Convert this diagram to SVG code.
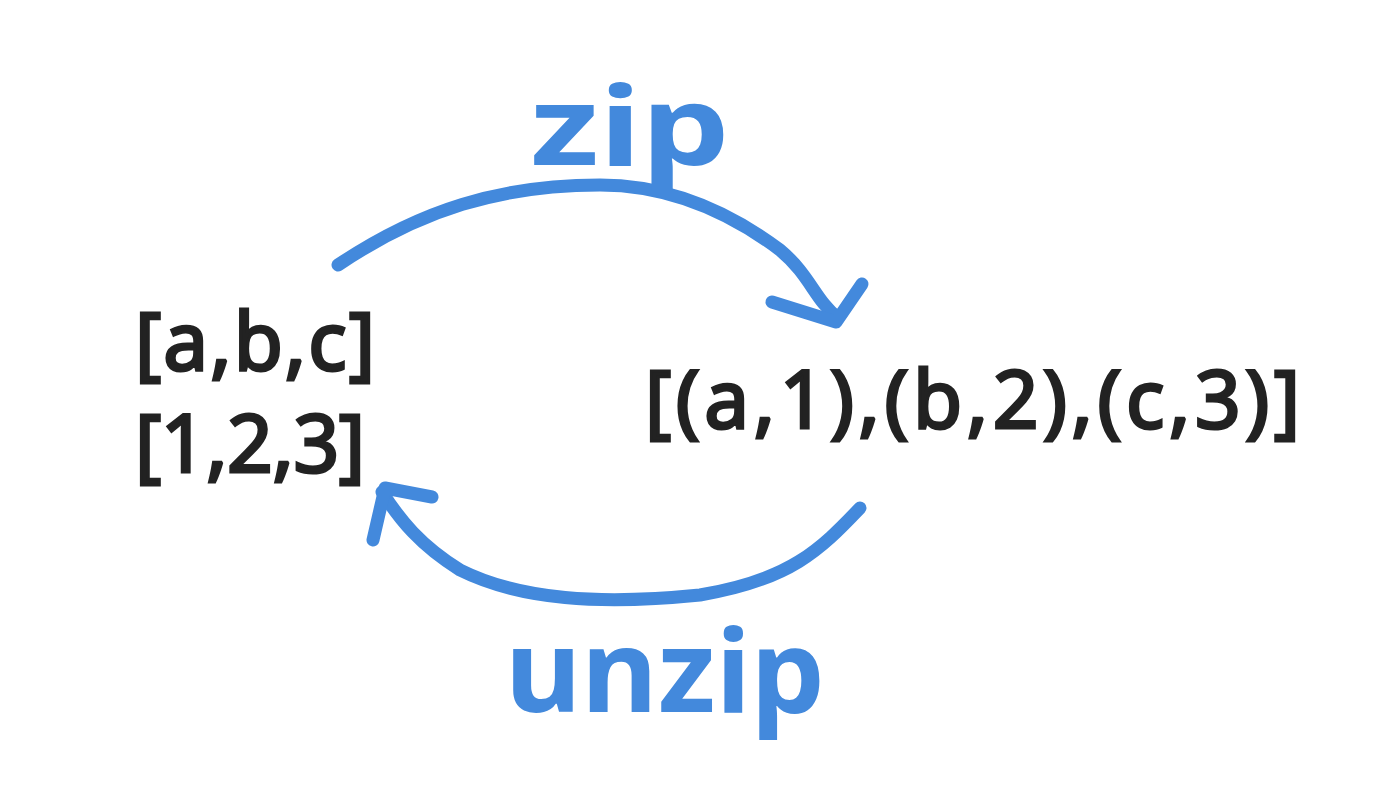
<svg xmlns="http://www.w3.org/2000/svg" width="1398" height="804" viewBox="0 0 1398 804">
<style>
.c{fill:none;stroke:#4389dc;stroke-width:13;stroke-linecap:round;stroke-linejoin:round}
.t{font-family:"Noto Sans","DejaVu Sans",sans-serif;fill:#222;stroke:#222;stroke-width:3;font-size:80px}
.b{font-family:"Noto Sans","DejaVu Sans",sans-serif;fill:#4389dc;font-weight:bold}
</style>
<rect width="1398" height="804" fill="#fff"/>
<g id="connectors">
<path class="c" d="M338,265 C420,210 500,185 600,185 C680,185 740,220 780,250 C810,275 815,300 838,318"/>
<path class="c" d="M772,302 L836,322 L862,284"/>
<path class="c" d="M860,508 C820,550 790,580 700,595 C600,605 520,600 460,570 C420,545 400,520 382,492"/>
<path class="c" d="M373,540 L385,488 L432,497"/>
</g>
<g id="left"><text class="t" x="135" y="370" textLength="240" lengthAdjust="spacing">[a,b,c]</text><text class="t" x="135" y="472" textLength="230" lengthAdjust="spacing">[1,2,3]</text></g>
<g id="right"><text class="t" x="645" y="428" textLength="655" lengthAdjust="spacing">[(a,1),(b,2),(c,3)]</text></g>
<g id="zip-label"><text class="b" x="530" y="165" font-size="110" textLength="200" lengthAdjust="spacingAndGlyphs">zip</text></g>
<g id="unzip-label"><text class="b" x="505" y="712" font-size="115" textLength="320" lengthAdjust="spacingAndGlyphs">unzip</text></g>
</svg>
